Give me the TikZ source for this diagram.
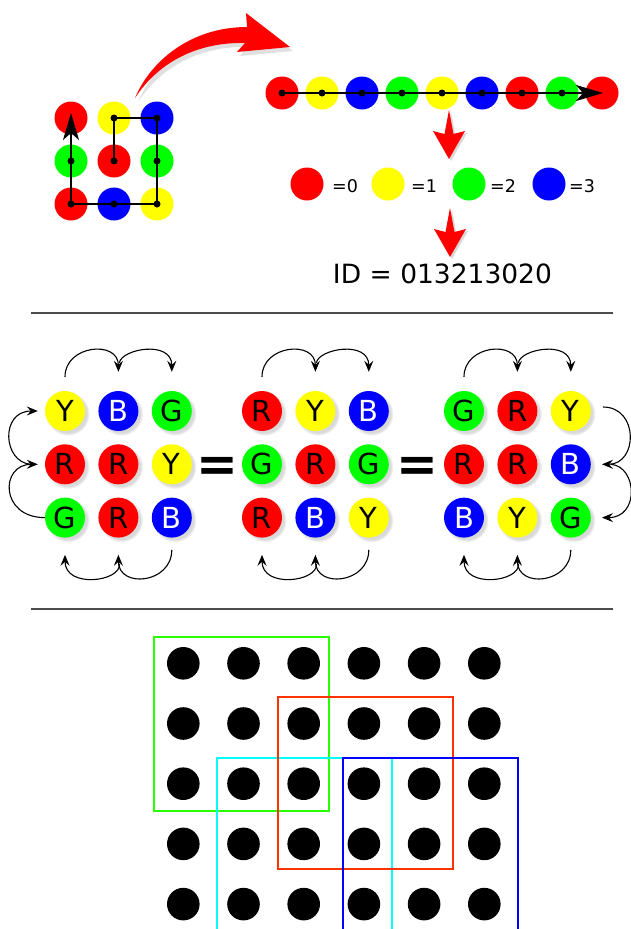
\documentclass[tikz,border=0pt]{standalone}
\usepackage{fontspec}
\setmainfont{DejaVu Sans}
\usetikzlibrary{arrows.meta,shadows}

\definecolor{pR}{RGB}{255,0,0}
\definecolor{pY}{RGB}{255,255,0}
\definecolor{pG}{RGB}{0,255,0}
\definecolor{pB}{RGB}{0,0,255}
\definecolor{fGreen}{RGB}{40,255,0}
\definecolor{fRed}{RGB}{255,51,0}
\definecolor{fCyan}{RGB}{0,255,255}
\definecolor{fBlue}{RGB}{0,0,255}

\begin{document}
\begin{tikzpicture}[x=1pt, y=-1pt, >=Stealth,
    chip/.style={circle, minimum size=33pt, inner sep=0pt},
    ball/.style={circle, minimum size=40pt, inner sep=0pt,
        font=\fontsize{29}{29}\selectfont,
        circular drop shadow={shadow xshift=2.5pt, shadow yshift=-2.5pt, opacity=.3}},
    ballR/.style={fill=pR}, ballY/.style={fill=pY}, ballG/.style={fill=pG},
    ballB/.style={fill=pB, text=white},
    route/.style={line width=1.4pt},
    bigtip/.style={-{Stealth[length=27pt, width=16pt, inset=7pt]}},
    swap/.style={line width=1.1pt, -{Stealth[length=11pt, width=9pt, inset=4pt]}},
    rule/.style={line width=1.3pt, black!70},
    spot/.style={circle, fill=black, minimum size=32.6pt, inner sep=0pt},
    frame/.style={line width=2.3pt},
    eqsign/.style={font=\fontsize{50}{50}\selectfont\bfseries, inner sep=0pt},
    swshadow/.style={black, opacity=.12, shift={(3,4)}},
    swbody/.style={pR},
    downarrow/.pic={
        \fill[black, opacity=.15] (2,2) -- (6.5,26) -- (18,23) -- (2,51) -- (-14,23) -- (-2.5,26) -- cycle;
        \fill[pR] (0,0) -- (4.5,24) -- (16,21) -- (0,49) -- (-16,21) -- (-4.5,24) -- cycle;
    }]

    \useasboundingbox (0,0) rectangle (631,929);

    % 1. 左上角 3x3 色块和遍历路径
    \foreach \r/\row in {1/{R,Y,B}, 2/{G,R,G}, 3/{R,B,Y}}
        \foreach \c [count=\j] in \row
            \node[chip, fill=p\c] (s\r\j) at ({71+43*(\j-1)}, {118+43*(\r-1)}) {};

    \draw[route, bigtip] (s22.center) -- (s12.center) -- (s13.center) -- (s33.center)
        -- (s31.center) -- ([yshift=5pt]s11.center);
    \foreach \n in {s22,s12,s13,s23,s33,s32,s31,s21}
        \fill (\n.center) circle (3.5pt);

    % 2. 红色弯箭头 (带浅阴影)
    \foreach \s in {swshadow, swbody}
        \fill[\s] (135,98) .. controls (150,62) and (190,27) .. (247,27) -- (246,13)
            -- (290,47) -- (237,52) -- (245,43) .. controls (200,42) and (160,60) .. (135,98) -- cycle;

    % 3. 展开后的一行
    \foreach \c [count=\i] in {R,Y,B,G,Y,B,R,G,R}
        \node[chip, fill=p\c] (r\i) at ({282+40*(\i-1)}, 93) {};
    \draw[route, bigtip] (r1.center) -- ([xshift=1pt]r9.center);
    \foreach \i in {1,...,8}
        \fill (r\i.center) circle (3.5pt);

    \pic at (449,110) {downarrow};

    % 4. 颜色对应的数字
    \foreach \c/\v/\x/\tx in {R/0/307/332, Y/1/388/411, G/2/469/490, B/3/549/569} {
        \node[chip, fill=p\c] (k\v) at (\x,184) {};
        \node[anchor=base west, inner sep=0pt, font=\fontsize{17.5}{17.5}\selectfont] (n\v) at (\tx,192) {=\v};
    }

    \pic at (450,208) {downarrow};

    \node[anchor=base, inner sep=0pt, font=\fontsize{26.5}{26.5}\selectfont] (id) at (442.5,283) {ID = 013213020};

    % 分隔线
    \draw[rule] (31,313) -- (613,313);
    \draw[rule] (31,609) -- (613,609);

    % 5. 三个等价的 3x3 排列
    \foreach \k/\gx/\r/\row in {1/65/1/{Y,B,G}, 1/65/2/{R,R,Y}, 1/65/3/{G,R,B},
                               2/262/1/{R,Y,B}, 2/262/2/{G,R,G}, 2/262/3/{R,B,Y},
                               3/464/1/{G,R,Y}, 3/464/2/{R,R,B}, 3/464/3/{B,Y,G}}
        \foreach \l [count=\j] in \row
            \node[ball, ball\l] (g\k\r\j) at ({\gx+53.4*(\j-1)}, {411+53.3*(\r-1)}) {\l};

    \node[eqsign] (e1) at (217,469) {=};
    \node[eqsign] (e2) at (417,469) {=};

    % 列的轮换 (上) 和行的轮换 (下)
    \foreach \k in {1,2,3} {
        \draw[swap] ([yshift=14pt]g\k11.north) .. controls +(0,-32) and +(0,-32) .. ([yshift=19pt]g\k12.north);
        \draw[swap] ([xshift=1pt, yshift=28pt]g\k12.north) .. controls +(2,-14) and +(0,-32) .. ([yshift=19pt]g\k13.north);
        \draw[swap] ([yshift=-12pt]g\k33.south) .. controls +(0,34) and +(0,34) .. ([yshift=-17pt]g\k32.south);
        \draw[swap] ([xshift=1pt, yshift=-26pt]g\k32.south) .. controls +(2,18) and +(0,34) .. ([yshift=-17pt]g\k31.south);
    }

    % 左边和右边的行轮换
    \draw[swap] (g131.west) .. controls +(-45,0) and +(-38,0) .. ([xshift=-7pt]g121.west);
    \draw[swap] ([xshift=-14pt]g121.west) .. controls +(-28,-2) and +(-38,0) .. ([xshift=-7pt]g111.west);
    \draw[swap] ([xshift=12pt, yshift=4pt]g313.east) .. controls +(36,0) and +(36,0) .. ([xshift=11pt]g323.east);
    \draw[swap] ([xshift=20pt]g323.east) .. controls +(26,2) and +(38,0) .. ([xshift=11pt]g333.east);

    % 6. 6x5 点阵和四个窗口
    \foreach \r in {1,...,5}
        \foreach \c in {1,...,6}
            \node[spot] (b\r\c) at ({183.3+60.2*(\c-1)}, {663.3+60.2*(\r-1)}) {};

    \draw[frame, fGreen] (154,637.3) rectangle (329.3,810.7);
    \draw[frame, fCyan] (217.3,932) -- (217.3,758.3) -- (391.7,758.3) -- (391.7,932);
    \draw[frame, fRed] (277.7,697.3) rectangle (452.7,869);
    \draw[frame, fBlue] (343,932) -- (343,758.3) -- (517.7,758.3) -- (517.7,932);

\end{tikzpicture}
\end{document}
